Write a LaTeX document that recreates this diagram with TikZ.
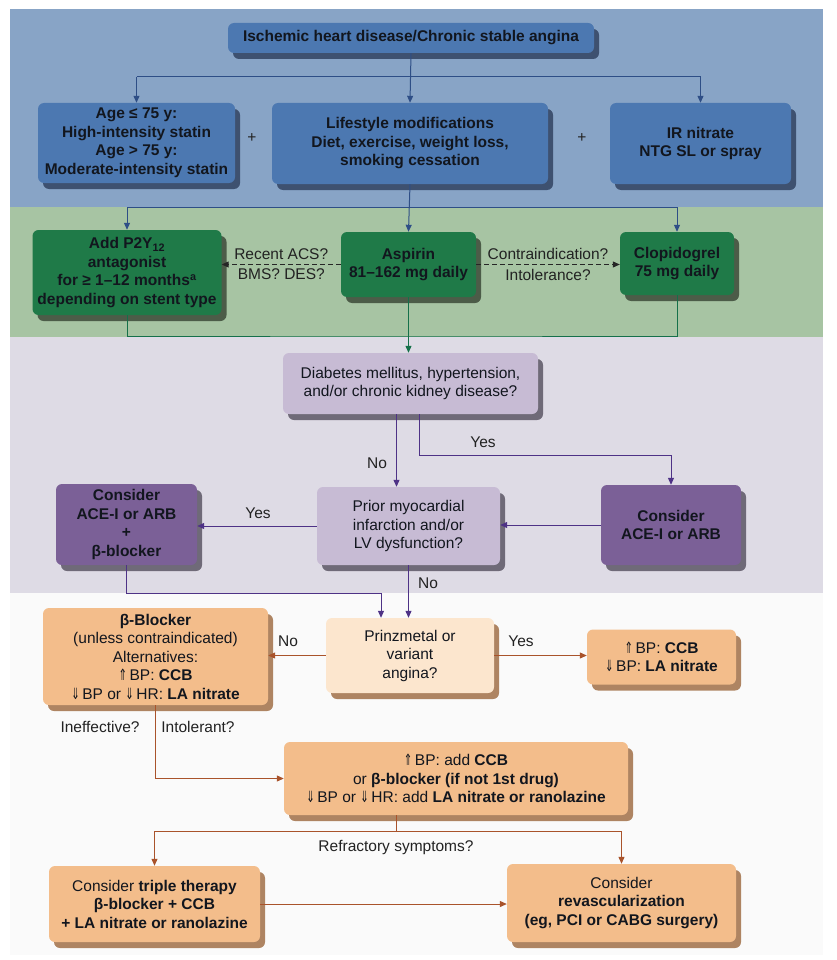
\documentclass[tikz,border=0pt]{standalone}
\usepackage{fontspec}
\setmainfont{Liberation Sans}
\newfontfamily\dejavu{DejaVu Sans}
\usetikzlibrary{arrows.meta,shadows}
\newcommand{\uparr}{\scalebox{0.65}[1.0]{\dejavu ⇑}}
\newcommand{\dnarr}{\scalebox{0.65}[1.0]{\dejavu ⇓}}
\definecolor{bandblue}{HTML}{88A4C6}
\definecolor{bandgreen}{HTML}{A7C4A3}
\definecolor{bandpurple}{HTML}{DEDBE5}
\definecolor{bandwhite}{HTML}{FAFAFA}
\definecolor{boxblue}{HTML}{4C78B1}
\definecolor{shblue}{HTML}{3E5170}
\definecolor{lnblue}{HTML}{2E4E86}
\definecolor{boxgreen}{HTML}{1F7A48}
\definecolor{shgreen}{HTML}{4C5C48}
\definecolor{lngreen}{HTML}{15704A}
\definecolor{boxlilac}{HTML}{C7BBD4}
\definecolor{boxpurple}{HTML}{7B6097}
\definecolor{shpurple}{HTML}{6F6A78}
\definecolor{lnpurple}{HTML}{4E3286}
\definecolor{boxorange}{HTML}{F3BD8B}
\definecolor{boxpeach}{HTML}{FCE6CE}
\definecolor{shorange}{HTML}{AE8462}
\definecolor{lnorange}{HTML}{A9532B}
\definecolor{boxtext}{HTML}{12161E}
\definecolor{labtext}{HTML}{222222}
\begin{document}
\begin{tikzpicture}[x=1pt,y=-1pt,
  font=\fontsize{15.5}{18.5}\selectfont,
  wh/.style 2 args={minimum width=#1pt, minimum height=#2pt},
  box/.style={rounded corners=6pt, align=center, inner sep=0pt, text=boxtext},
  sh/.style={general shadow={fill=#1, shadow xshift=5pt, shadow yshift=-6pt}},
  bluebox/.style={box, fill=boxblue, sh=shblue, font=\fontsize{15.5}{18.5}\selectfont\bfseries},
  greenbox/.style={box, fill=boxgreen, sh=shgreen, font=\fontsize{15.5}{18.5}\selectfont\bfseries},
  lilacbox/.style={box, fill=boxlilac, sh=shpurple},
  purplebox/.style={box, fill=boxpurple, sh=shpurple, font=\fontsize{15.5}{18.5}\selectfont\bfseries},
  orangebox/.style={box, fill=boxorange, sh=shorange},
  peachbox/.style={box, fill=boxpeach, sh=shorange},
  lab/.style={text=labtext, inner sep=1pt},
  tip/.style={-{Triangle[length=7pt,width=6pt]}},
  bline/.style={draw=lnblue, line width=1pt},
  gline/.style={draw=lngreen, line width=1pt},
  pline/.style={draw=lnpurple, line width=1pt},
  oline/.style={draw=lnorange, line width=1pt},
  dline/.style={draw=black!85, line width=1pt, dashed, dash pattern=on 5pt off 3pt}
]
\useasboundingbox (0,0) rectangle (836,960);
% bands
\fill[white] (0,0) rectangle (836,960);
\fill[bandblue] (10,9) rectangle (823,207);
\fill[bandgreen] (10,207) rectangle (823,337);
\fill[bandpurple] (10,337) rectangle (823,593);
\fill[bandwhite] (10,593) rectangle (823,955);

% blue row
\node[bluebox, wh={366}{30}] (top) at (411,38) {Ischemic heart disease/Chronic stable angina};
\node[bluebox, wh={197}{80}] (age) at (136.5,143) {Age ≤ 75 y:\\High-intensity statin\\Age > 75 y:\\Moderate-intensity statin};
\node[bluebox, wh={276}{81}] (life) at (410,143.5) {Lifestyle modifications\\Diet, exercise, weight loss,\\smoking cessation};
\node[bluebox, wh={181}{81}] (ir) at (700.5,143.5) {IR nitrate\\NTG SL or spray};
\node[lab] (plus1) at (252,138) {+};
\node[lab] (plus2) at (582,138) {+};

\coordinate (jb) at (410,77);
\draw[bline] (age.north |- jb) -- (ir.north |- jb);
\draw[bline, tip] (top.south) -- (life.north);
\draw[bline, tip] (age.north |- jb) -- (age.north);
\draw[bline, tip] (ir.north |- jb) -- (ir.north);

% green row
\node[greenbox, wh={189}{85}] (p2y) at (127,272.5) {Add P2Y\textsubscript{12}\\antagonist\\for ≥ 1–12 months\textsuperscript{a}\\depending on stent type};
\node[greenbox, wh={135}{65}] (asp) at (408.5,264.5) {Aspirin\\81–162 mg daily};
\node[greenbox, wh={114}{63}] (clop) at (677,263.5) {Clopidogrel\\75 mg daily};

\coordinate (jg) at (410,207);
\draw[bline] (p2y.north |- jg) -- (clop.north |- jg);
\draw[bline, tip] (life.south) -- (asp.north);
\draw[bline, tip] (p2y.north |- jg) -- (p2y.north);
\draw[bline, tip] (clop.north |- jg) -- (clop.north);

\draw[dline, tip] (asp.west) -- (asp.west -| p2y.east)
  node[midway, lab, above=3pt] (racs) {Recent ACS?}
  node[midway, lab, below=3pt] (bms) {BMS? DES?};
\draw[dline, tip] (asp.east) -- (asp.east -| clop.west)
  node[midway, lab, above=3pt] (contra) {Contraindication?}
  node[midway, lab, below=3pt] (intol) {Intolerance?};

% purple section
\node[lilacbox, wh={255}{61}] (diab) at (410.5,383.5) {Diabetes mellitus, hypertension,\\and/or chronic kidney disease?};
\node[lilacbox, wh={183}{78}] (mi) at (408.5,526) {Prior myocardial\\infarction and/or\\LV dysfunction?};
\node[purplebox, wh={140}{80}] (aceR) at (671,525) {Consider\\ACE-I or ARB};
\node[purplebox, wh={141}{81}] (aceL) at (126.5,524.5) {Consider\\ACE-I or ARB\\+\\β-blocker};

\coordinate (jgg) at (410,336);
\draw[gline] (p2y.south) |- (jgg) -| (clop.south);
\draw[gline, tip] (asp.south) -- (asp.south |- diab.north);

\draw[pline, tip] ([xshift=-14pt]diab.south) -- ([xshift=-14pt]diab.south |- mi.north);
\draw[pline, tip] ([xshift=9pt]diab.south) -- ++(0,41) -| (aceR.north);
\node[lab] (yes1) at (483,442) {Yes};
\node[lab] (no1) at (377,463) {No};

\draw[pline, tip] (mi.west) -- (mi.west -| aceL.east);
\node[lab] (yes2) at (258,513) {Yes};
\draw[pline, tip] (aceR.west) -- (aceR.west -| mi.east);

% orange section
\node[orangebox, wh={225}{97}] (beta) at (155.5,656.5) {\textbf{β-Blocker}\\(unless contraindicated)\\Alternatives:\\\uparr\,BP: \textbf{CCB}\\\dnarr\,BP or \dnarr\,HR: \textbf{LA nitrate}};
\node[peachbox, wh={168}{75}] (prinz) at (410,655.5) {Prinzmetal or\\variant\\angina?};
\node[orangebox, wh={149}{55}] (ccb) at (661.5,657) {\uparr\,BP: \textbf{CCB}\\\dnarr\,BP: \textbf{LA nitrate}};
\node[orangebox, wh={344}{73}] (mid) at (456,778.5) {\uparr\,BP: add \textbf{CCB}\\or \textbf{β-blocker (if not 1st drug)}\\\dnarr\,BP or \dnarr\,HR: add \textbf{LA nitrate or ranolazine}};
\node[orangebox, wh={211}{76}] (triple) at (154.5,904) {Consider \textbf{triple therapy}\\\textbf{β-blocker + CCB}\\\textbf{+ LA nitrate or ranolazine}};
\node[orangebox, wh={229}{78}] (revasc) at (621.5,903) {Consider\\\textbf{revascularization}\\\textbf{(eg, PCI or CABG surgery)}};

\draw[pline, tip] (mi.south) -- (mi.south |- prinz.north);
\node[lab] (no2) at (428,583) {No};
\coordinate (jp) at (381,593);
\draw[pline, tip] (aceL.south) |- (jp) -- (jp |- prinz.north);

\draw[oline, tip] (prinz.west) -- (prinz.west -| beta.east);
\node[lab] (no3) at (288,641) {No};
\draw[oline, tip] (prinz.east) -- (prinz.east -| ccb.west);
\node[lab] (yes3) at (521,641) {Yes};

\draw[oline, tip] (beta.south) |- (mid.west);
\node[lab] (ineff) at (100,727) {Ineffective?};
\node[lab] (intolr) at (198,727) {Intolerant?};

\coordinate (jr) at (396,831);
\draw[oline] (jr |- mid.south) -- (jr);
\draw[oline] (triple.north |- jr) -- (revasc.north |- jr);
\draw[oline, tip] (triple.north |- jr) -- (triple.north);
\draw[oline, tip] (revasc.north |- jr) -- (revasc.north);
\node[lab] (refr) at (396,847) {Refractory symptoms?};
\draw[oline, tip] (triple.east) -- (triple.east -| revasc.west);
\end{tikzpicture}
\end{document}
